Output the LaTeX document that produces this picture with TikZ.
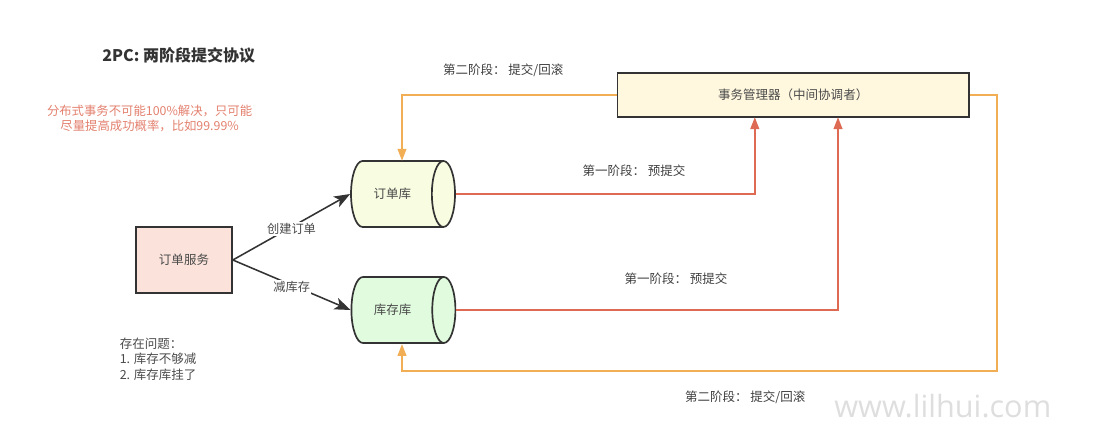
\documentclass[tikz,border=0pt]{standalone}
\usepackage{fontspec}
\usepackage{xcolor}
\setmainfont{Noto Sans CJK SC}
\newfontfamily\markfont{Open Sans}
\usetikzlibrary{arrows.meta,positioning,shapes.geometric}

\definecolor{linedark}{HTML}{333333}
\definecolor{textdark}{HTML}{4A4A4A}
\definecolor{phasered}{HTML}{DE6A54}
\definecolor{phaseorange}{HTML}{F2AE55}
\definecolor{servicefill}{HTML}{FBE3DB}
\definecolor{managerfill}{HTML}{FFF8DF}
\definecolor{orderfill}{HTML}{F8FCE0}
\definecolor{stockfill}{HTML}{E0FBDD}

\begin{document}
\begin{tikzpicture}[
  >=Stealth,
  boxnode/.style={draw=linedark, line width=1.2pt, inner sep=0pt, font=\fontsize{8.9}{11}\selectfont, text=textdark},
  dbnode/.style={cylinder, shape aspect=2, draw=linedark, line width=1.2pt, minimum width=1.65cm,
               minimum height=2.6cm, inner sep=0pt, font=\fontsize{8.9}{11}\selectfont, text=textdark,
               execute at end node={\kern6.4pt}},
  phaselabel/.style={font=\fontsize{8.9}{11}\selectfont, text=black!75},
  edgelabel/.style={fill=white, inner sep=1pt, yshift=-1.4pt, font=\fontsize{8.7}{11}\selectfont, text=textdark},
  callline/.style={->, line width=1.1pt, draw=linedark, >={Stealth[length=4mm, width=3mm, inset=1mm]}},
  preline/.style={->, line width=1.3pt, draw=phasered, >={Triangle[length=3mm, width=2.2mm]}},
  commitline/.style={->, line width=1.2pt, draw=phaseorange, >={Triangle[length=3mm, width=2.2mm]}},
]
\useasboundingbox (0, 0) rectangle (27.625, 11.15);

% === Title and notes ===
\node[font=\fontsize{11.4}{14}\selectfont\bfseries, text=black!80] (title) at (4.47, 9.76)
  {2PC: 两阶段提交协议};
\node[font=\fontsize{8.8}{10.7}\selectfont, text=phasered!85, align=center] (hint) at (3.74, 8.2)
  {分布式事务不可能100\%解决，只可能\\尽量提高成功概率，比如99.99\%};
\node[font=\fontsize{8.9}{10.9}\selectfont, text=textdark, align=left, anchor=west] (issues) at (2.87, 2.17)
  {存在问题：\\1. 库存不够减\\2. 库存库挂了};

% === Boxes ===
\node[boxnode, fill=servicefill, minimum width=2.4cm, minimum height=1.65cm] (orderservice) at (4.6, 4.65)
  {订单服务};
\node[boxnode, fill=managerfill, minimum width=8.78cm, minimum height=1.1cm] (manager) at (19.83, 8.78)
  {事务管理器（中间协调者）};

% === Databases ===
\node[dbnode, fill=orderfill] (orderdb) at (9.92, 6.3) {订单库};
\node[dbnode, fill=stockfill] (stockdb) at (9.93, 3.4) {库存库};

% === Free ends ===
\coordinate (firsttop) at (18.87, 8.22);
\coordinate (secondtop) at (20.95, 8.22);
\coordinate (ordertop) at (10.05, 7.13);
\coordinate (stockbottom) at (10.05, 2.55);
\coordinate (rightturn) at (24.93, 8.78);
\coordinate (bottomturn) at (24.93, 1.88);

% === Calls from the service ===
\draw[callline] (orderservice.east) -- (orderdb.west)
  node[edgelabel, pos=0.5] (createlabel) {创建订单};
\draw[callline] (orderservice.east) -- (stockdb.west)
  node[edgelabel, pos=0.5] (reducelabel) {减库存};

% === First phase ===
\draw[preline] (orderdb.east) -| (firsttop);
\draw[preline] (stockdb.east) -| (secondtop);
\node[phaselabel] (prefirst) at (15.85, 6.89) {第一阶段： 预提交};
\node[phaselabel] (presecond) at (16.9, 4.17) {第一阶段： 预提交};

% === Second phase ===
\draw[commitline] (manager.west) -| (ordertop);
\draw[commitline] (manager.east) -- (rightturn) -- (bottomturn) -| (stockbottom);
\node[phaselabel] (commitfirst) at (12.58, 9.4) {第二阶段： 提交/回滚};
\node[phaselabel] (commitsecond) at (18.63, 1.22) {第二阶段： 提交/回滚};

% === Watermark ===
\node[font=\markfont\fontsize{21.8}{24}\selectfont, text=black!13] (mark) at (23.57, 1.0) {www.lilhui.com};

\end{tikzpicture}
\end{document}
